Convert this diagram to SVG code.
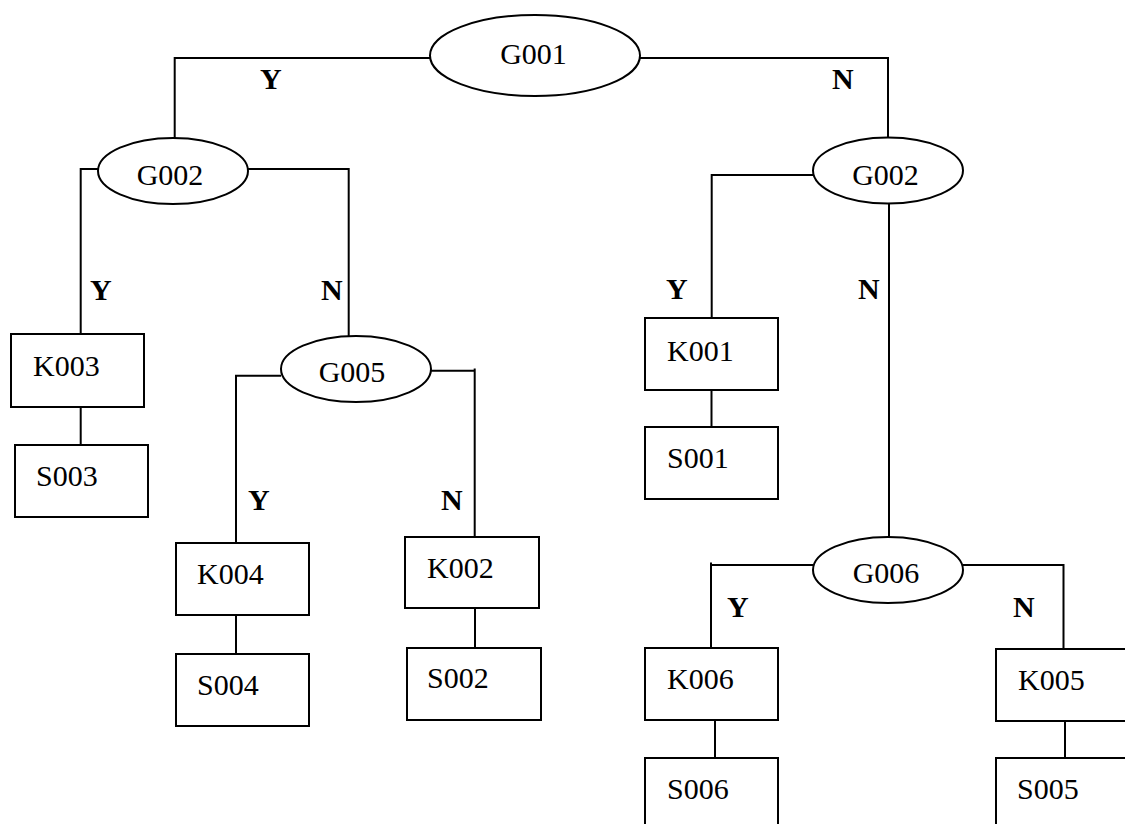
<svg xmlns="http://www.w3.org/2000/svg" width="1125" height="824" viewBox="0 0 1125 824">
<style>
.n{fill:#fff;stroke:#000;stroke-width:2}
.t{font-family:"Liberation Serif","Times New Roman",serif;font-size:30px;fill:#000}
.c{text-anchor:middle}
.l{font-family:"Liberation Serif","Times New Roman",serif;font-size:30px;font-weight:bold;fill:#000}
#connectors path{fill:none;stroke:#000;stroke-width:2}
</style>
<rect width="1125" height="824" fill="#fff"/>
<g id="connectors">
<path d="M430,58 H174.7 V138"/>
<path d="M640,58 H888 V138"/>
<path d="M98,169 H80.7 V334"/>
<path d="M248,169 H348.7 V336"/>
<path d="M80.7,407 V445"/>
<path d="M281,375.7 H236 V543"/>
<path d="M431,370.7 H474.7 M474.7,368.5 V537"/>
<path d="M236,615 V654"/>
<path d="M475,608 V648"/>
<path d="M813,175 H711.7 V318"/>
<path d="M889,203 V537"/>
<path d="M711.5,390 V427"/>
<path d="M813,565 H711 M711,562.5 V648"/>
<path d="M963,565 H1063.5 V649"/>
<path d="M715,720 V758"/>
<path d="M1065,720 V758"/>
<text class="l" x="260" y="89">Y</text>
<text class="l" x="832" y="89">N</text>
<text class="l" x="90" y="300">Y</text>
<text class="l" x="321" y="300">N</text>
<text class="l" x="248" y="510">Y</text>
<text class="l" x="441" y="510">N</text>
<text class="l" x="666" y="299">Y</text>
<text class="l" x="858" y="299">N</text>
<text class="l" x="727" y="617">Y</text>
<text class="l" x="1013" y="617">N</text>
</g>
<g id="G001"><ellipse class="n" cx="535" cy="55.5" rx="105" ry="40.5"/><text class="t c" x="533.5" y="64">G001</text></g>
<g id="G002L"><ellipse class="n" cx="173" cy="171" rx="75" ry="33"/><text class="t c" x="170" y="185">G002</text></g>
<g id="G002R"><ellipse class="n" cx="888" cy="170.5" rx="75" ry="33"/><text class="t c" x="885.5" y="185">G002</text></g>
<g id="G005"><ellipse class="n" cx="356" cy="369" rx="75" ry="33"/><text class="t c" x="352" y="382">G005</text></g>
<g id="G006"><ellipse class="n" cx="888" cy="570" rx="75" ry="33"/><text class="t c" x="886" y="583">G006</text></g>
<g id="K003"><rect class="n" x="11" y="334" width="133" height="73"/><text class="t" x="33" y="376">K003</text></g>
<g id="S003"><rect class="n" x="15" y="445" width="133" height="72"/><text class="t" x="36" y="486">S003</text></g>
<g id="K004"><rect class="n" x="176" y="543" width="133" height="72"/><text class="t" x="197" y="584">K004</text></g>
<g id="S004"><rect class="n" x="176" y="654" width="133" height="72"/><text class="t" x="197" y="695">S004</text></g>
<g id="K002"><rect class="n" x="405" y="537" width="134" height="71"/><text class="t" x="427" y="578">K002</text></g>
<g id="S002"><rect class="n" x="407" y="648" width="134" height="72"/><text class="t" x="427" y="688">S002</text></g>
<g id="K001"><rect class="n" x="645" y="318" width="133" height="72"/><text class="t" x="667" y="361">K001</text></g>
<g id="S001"><rect class="n" x="645" y="427" width="133" height="72"/><text class="t" x="667" y="468">S001</text></g>
<g id="K006"><rect class="n" x="645" y="648" width="133" height="72"/><text class="t" x="667" y="689">K006</text></g>
<g id="S006"><rect class="n" x="645" y="758" width="133" height="82"/><text class="t" x="667" y="799">S006</text></g>
<g id="K005"><rect class="n" x="996" y="649" width="140" height="72"/><text class="t" x="1018" y="690">K005</text></g>
<g id="S005"><rect class="n" x="996" y="758" width="140" height="82"/><text class="t" x="1017" y="799">S005</text></g>
</svg>
